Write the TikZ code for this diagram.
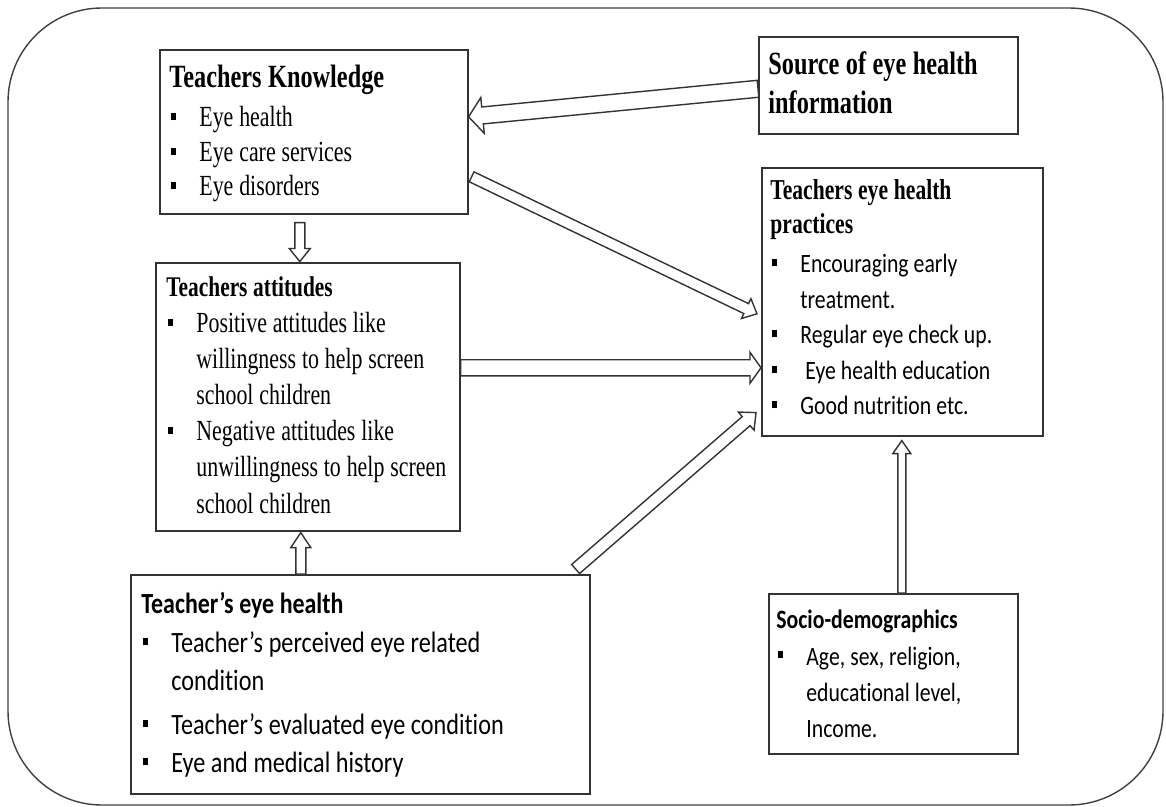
\documentclass[tikz,border=0pt]{standalone}
\usepackage{fontspec}
\setmainfont{Liberation Serif}[FakeStretch=0.75]
\newfontfamily\calibri{Carlito}[FakeStretch=0.82, Ligatures=NoCommon]
\usetikzlibrary{calc}

% hollow block arrow: tail, tip, shaft half width, head half width, head length
\newcommand{\blockarrow}[5]{%
  \coordinate (ba-back) at ($(#2)!#5!(#1)$);
  \draw[link] ($(#1)!#3!90:(#2)$) -- ($(ba-back)!#3!90:(#2)$)
    -- ($(ba-back)!#4!90:(#2)$) -- (#2)
    -- ($(ba-back)!#4!-90:(#2)$) -- ($(ba-back)!#3!-90:(#2)$)
    -- ($(#1)!#3!-90:(#2)$) -- cycle;}
\newcommand{\bul}{\makebox[15pt][l]{\hspace{1pt}\rule[3.3pt]{2.3pt}{3.6pt}}}
\newcommand{\cont}{\makebox[15pt]{}}
% narrower word spaces for the condensed faces
\newcommand{\sersp}{\spaceskip=0.2em\relax}
\newcommand{\sansp}{\spaceskip=0.19em\relax}

\begin{document}
\begin{tikzpicture}[x=0.5pt, y=-0.5pt,
  box/.style={draw=black!80, line width=0.8pt, anchor=north west, inner sep=0pt},
  txt/.style={anchor=base west, inner sep=0pt, align=left, text width=#1},
  link/.style={draw=black!80, line width=0.7pt, fill=white, line join=miter},
  frame/.style={draw=black!75, line width=0.7pt, rounded corners=47pt}
]
  \useasboundingbox (0,0) rectangle (1166,807);
  \draw[frame] (8,8) rectangle (1163,805);

  \node[box, minimum width=154pt, minimum height=82pt] (know) at (159,49) {};
  \node[box, minimum width=129.5pt, minimum height=48.5pt] (source) at (758,36) {};
  \node[box, minimum width=140.5pt, minimum height=134pt] (practice) at (761,167) {};
  \node[box, minimum width=152pt, minimum height=134pt] (attitude) at (155,262) {};
  \node[box, minimum width=229.5pt, minimum height=109.5pt] (eyehealth) at (130,574) {};
  \node[box, minimum width=124.5pt, minimum height=80pt] (socio) at (768,593) {};

  % arrow ends
  \coordinate (source-out) at ($(source.west)+(0,3.5)$);
  \coordinate (know-in) at ($(know.east)+(0,-15)$);
  \coordinate (know-out) at ($(know.east)+(3,45)$);
  \coordinate (know-down) at ($(know.south)+(-14,8)$);
  \coordinate (att-top) at ($(attitude.north)+(-8,-0.5)$);
  \coordinate (att-out) at ($(attitude.east)+(0,-29)$);
  \coordinate (att-bottom) at ($(attitude.south)+(-7,1)$);
  \coordinate (prac-in1) at ($(practice.west)+(-4,12)$);
  \coordinate (prac-in2) at ($(practice.west)+(0,66)$);
  \coordinate (prac-in3) at ($(practice.south west)+(-5,-24)$);
  \coordinate (prac-bottom) at ($(practice.south)+(-0.5,4)$);
  \coordinate (eye-up) at ($(eyehealth.north)+(-59.5,0)$);
  \coordinate (eye-out) at ($(eyehealth.north east)+(-15,-5)$);
  \coordinate (socio-up) at ($(socio.north)+(8.5,0)$);

  \blockarrow{source-out}{know-in}{4.25pt}{9pt}{7pt}
  \blockarrow{know-out}{prac-in1}{2.75pt}{5.5pt}{6pt}
  \blockarrow{know-down}{att-top}{2.5pt}{5.25pt}{6.5pt}
  \blockarrow{att-out}{prac-in2}{4pt}{7.75pt}{5.5pt}
  \blockarrow{eye-out}{prac-in3}{3pt}{6pt}{6.5pt}
  \blockarrow{eye-up}{att-bottom}{2.5pt}{5pt}{7.5pt}
  \blockarrow{socio-up}{prac-bottom}{2pt}{4.5pt}{6.5pt}

  \node[txt=150pt, font=\fontsize{14.6pt}{17.25pt}\selectfont] (know-text)
    at ($(know.north west)+(10,39)$)
    {\sersp{\bfseries\fontsize{16.2pt}{17.25pt}\selectfont\sersp Teachers Knowledge}\\[2.25pt]
     \bul Eye health\\ \bul Eye care services\\ \bul Eye disorders};
  \node[txt=130pt, font=\fontsize{16.2pt}{19.5pt}\selectfont\bfseries] (source-text)
    at ($(source.north west)+(10,39)$)
    {\sersp Source of eye health\\ information};
  \node[txt=140pt, font=\calibri\fontsize{13.25pt}{17.75pt}\selectfont] (practice-text)
    at ($(practice.north west)+(9,33)$)
    {\sansp{\rmfamily\bfseries\fontsize{14.4pt}{17.75pt}\selectfont\sersp Teachers eye health\\[-1pt] practices}\\[2pt]
     \bul Encouraging early\\ \cont treatment.\\ \bul Regular eye check up.\\
     \bul\ Eye health education\\ \bul Good nutrition etc.};
  \node[txt=150pt, font=\fontsize{14.6pt}{18pt}\selectfont] (attitude-text)
    at ($(attitude.north west)+(11,35)$)
    {\sersp{\bfseries\fontsize{14.25pt}{18pt}\selectfont\sersp Teachers attitudes}\\
     \bul Positive attitudes like\\ \cont willingness to help screen\\ \cont school children\\
     \bul Negative attitudes like\\ \cont unwillingness to help screen\\ \cont school children};
  \node[txt=225pt, font=\calibri\fontsize{14.75pt}{19pt}\selectfont] (eyehealth-text)
    at ($(eyehealth.north west)+(11,39)$)
    {\sansp{\bfseries\fontsize{14.6pt}{19pt}\selectfont\sansp Teacher’s eye health}\\[0.5pt]
     \bul Teacher’s perceived eye related\\ \cont condition\\[3pt]
     \bul Teacher’s evaluated eye condition\\ \bul Eye and medical history};
  \node[txt=120pt, font=\calibri\fontsize{13.25pt}{18pt}\selectfont] (socio-text)
    at ($(socio.north west)+(8,35)$)
    {\sansp{\bfseries\sansp Socio-demographics}\\[0.5pt]
     \bul Age, sex, religion,\\ \cont educational level,\\ \cont Income.};
\end{tikzpicture}
\end{document}
